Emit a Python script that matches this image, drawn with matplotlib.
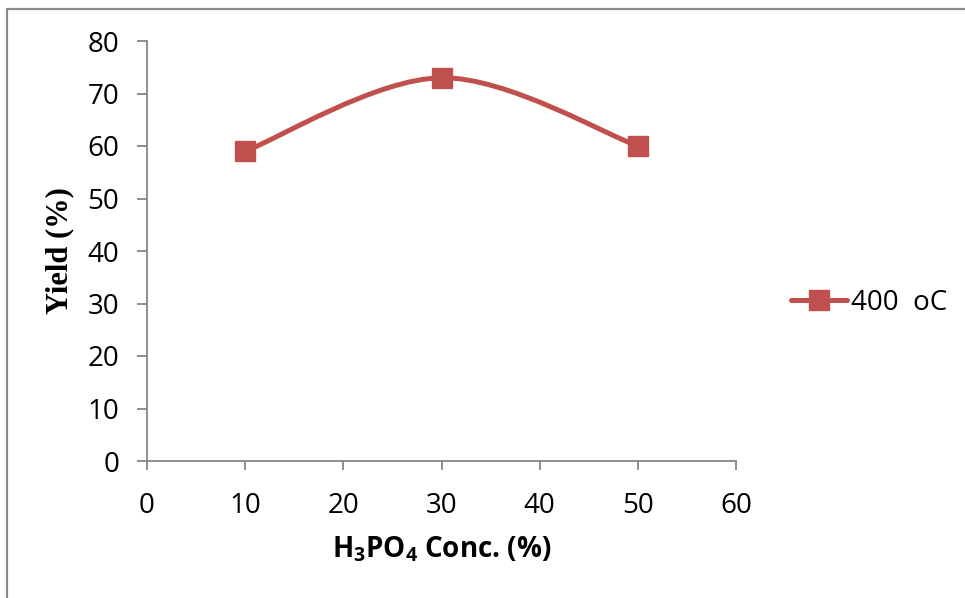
import numpy as np
import matplotlib
matplotlib.use("Agg")
import matplotlib.pyplot as plt
from matplotlib.path import Path
from matplotlib.patches import PathPatch, Rectangle
from matplotlib.lines import Line2D

# H3PO4 concentration (%) and carbon yield (%) at 400 oC
conc = [10, 30, 50]
yield_400 = [59, 73, 60]
series_label = "400  oC"

x_ticks = [0, 10, 20, 30, 40, 50, 60]
y_ticks = [0, 10, 20, 30, 40, 50, 60, 70, 80]

red = "#C0504D"
grey = "#868686"

plt.rcParams["font.family"] = ["Open Sans", "DejaVu Sans"]
plt.rcParams["mathtext.fontset"] = "custom"
plt.rcParams["mathtext.rm"] = "Open Sans:bold"
plt.rcParams["mathtext.it"] = "Open Sans:bold"
plt.rcParams["mathtext.bf"] = "Open Sans:bold"


def smooth_path(xs, ys):
    """Bezier path through the points, same style as a spreadsheet 'smoothed line'."""
    pts = np.column_stack([xs, ys]).astype(float)
    n = len(pts)
    verts = [pts[0]]
    codes = [Path.MOVETO]
    for i in range(n - 1):
        p0 = pts[max(i - 1, 0)]
        p1 = pts[i]
        p2 = pts[i + 1]
        p3 = pts[min(i + 2, n - 1)]
        c1 = p1 + (p2 - p0) / 6.0
        c2 = p2 - (p3 - p1) / 6.0
        verts += [c1, c2, p2]
        codes += [Path.CURVE4] * 3
    return Path(verts, codes)


fig = plt.figure(figsize=(9.65, 5.98), dpi=100)
ax = fig.add_axes([147 / 965, 1 - 461 / 598, (736 - 147) / 965, (461 - 41) / 598])

# smoothed line and square markers
curve = PathPatch(smooth_path(conc, yield_400), facecolor="none", edgecolor=red,
                  lw=3.6, capstyle="round", joinstyle="round", zorder=2)
ax.add_patch(curve)
ax.plot(conc, yield_400, linestyle="none", marker="s", markersize=14,
        color=red, zorder=3)

ax.set_xlim(0, 60)
ax.set_ylim(0, 80)
ax.set_xticks(x_ticks)
ax.set_yticks(y_ticks)

for side in ["top", "right"]:
    ax.spines[side].set_visible(False)
for side in ["left", "bottom"]:
    ax.spines[side].set_color(grey)
    ax.spines[side].set_linewidth(1.3)

ax.tick_params(axis="y", direction="out", length=7, width=1.3, color=grey,
               labelsize=20, pad=13)
ax.tick_params(axis="x", direction="out", length=6.5, width=1.3, color=grey,
               labelsize=20, pad=16)

ax.set_xlabel(r"$\mathrm{H_3PO_4}$ Conc. (%)", fontsize=20, fontweight="bold")
ax.xaxis.set_label_coords(0.5, 1 - (549 - 41) / 420)
ax.xaxis.label.set_va("center")

ax.set_ylabel("Yield (%)", fontsize=22, fontweight="bold",
              family=["Liberation Serif", "DejaVu Serif"])
ax.yaxis.set_label_coords((60 - 147) / 589, 0.5)
ax.yaxis.label.set_va("center")

handle = Line2D([], [], color=red, lw=3.6, marker="s", markersize=14,
                solid_capstyle="round")
ax.legend([handle], [series_label], loc="center left",
          bbox_to_anchor=(791 / 965, 1 - 303 / 598), bbox_transform=fig.transFigure,
          frameon=False, fontsize=20, borderpad=0, borderaxespad=0,
          handlelength=2.0, handletextpad=0.15)

# chart area border
fig.patches.append(Rectangle((7 / 965, -0.05), 1.1, 1 - 9 / 598 + 0.05,
                             transform=fig.transFigure, fill=False,
                             edgecolor="#8a8a8a", lw=1.6))

fig.savefig("out.png", dpi=100)
